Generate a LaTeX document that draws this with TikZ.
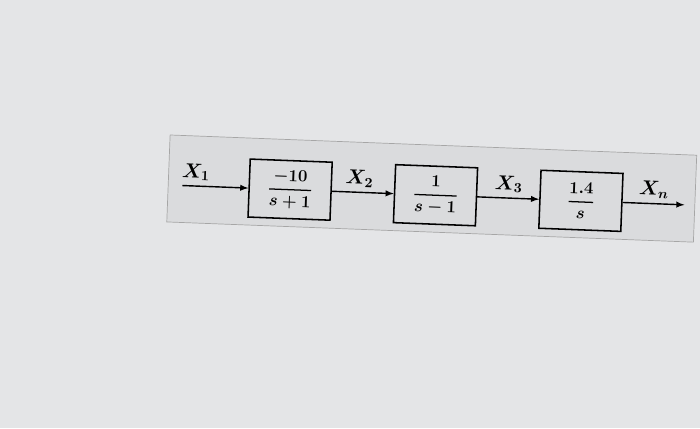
\documentclass[tikz,border=0pt]{standalone}
\usepackage{amsmath,amssymb}
\usepackage{xcolor}
\usepackage{tikz}
\usetikzlibrary{arrows,positioning}

\definecolor{paper}{RGB}{228,229,231}
\definecolor{sheet}{RGB}{218,219,221}
\newcommand{\tf}[2]{\genfrac{}{}{0.9pt}{0}{#1}{#2}}

\begin{document}
\begin{tikzpicture}[
    node distance=1.55cm,
    block/.style={rectangle, draw, line width=1.1pt, fill=sheet, minimum width=2.05cm, minimum height=1.45cm, font=\large\boldmath},
    frame/.style={rectangle, draw=gray!70, line width=0.5pt, fill=sheet, minimum width=13.175cm, minimum height=2.175cm},
    sig/.style={-latex, line width=1pt},
    lbl/.style={above, font=\Large\boldmath}
]
    \useasboundingbox[fill=paper] (0,0) rectangle (17.5,10.7);

    \begin{scope}[rotate around={-2.2:(10.75,5.825)}, transform shape]
    \node[frame] (frame) at (10.7875,5.9875) {};

    \node[block] (g1) at (7.25,5.825) {$\tf{-10}{s+1}$};
    \node[block, right=of g1] (g2) {$\tf{1}{s-1}$};
    \node[block, right=of g2] (g3) {$\tf{1.4}{s}$};

    \coordinate[left=1.65cm of g1] (in);
    \coordinate[right=1.55cm of g3] (out);

    \draw[sig] (in) -- node[lbl, pos=0.2] (x1) {$X_1$} (g1);
    \draw[sig] (g1) -- node[lbl, pos=0.44] (x2) {$X_2$} (g2);
    \draw[sig] (g2) -- node[lbl] (x3) {$X_3$} (g3);
    \draw[sig] (g3) -- node[lbl] (xn) {$X_n$} (out);
    \end{scope}
\end{tikzpicture}
\end{document}
